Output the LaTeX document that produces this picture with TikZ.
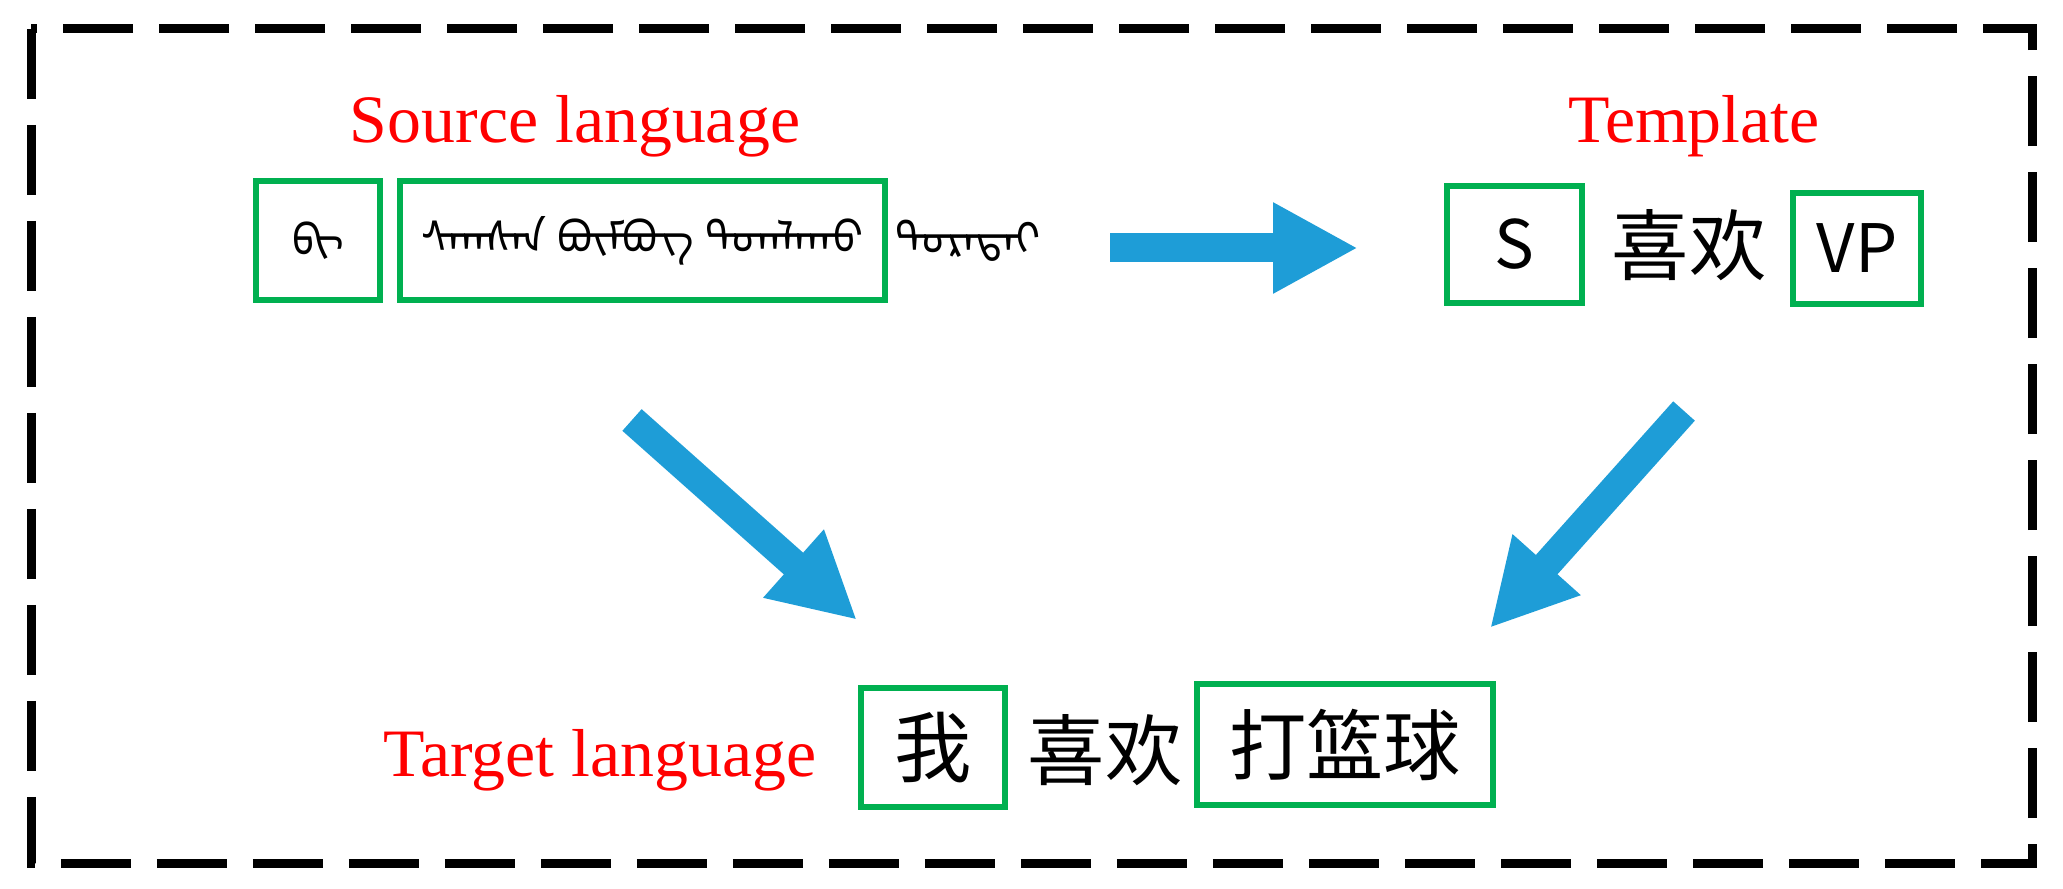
\documentclass[tikz,border=0pt]{standalone}
\usepackage{fontspec}
\setmainfont{Liberation Serif}
\newfontfamily\cjk{Noto Sans CJK SC}
\IfFontExistsTF{Noto Sans Mongolian}
  {\newfontfamily\mong[Script=Mongolian]{Noto Sans Mongolian}}
  {\newfontfamily\mong{DejaVu Sans}}
\usetikzlibrary{arrows.meta,positioning,calc}
\definecolor{boxgreen}{RGB}{0,176,80}
\definecolor{arrowblue}{RGB}{30,157,215}

\tikzset{
  redtitle/.style={text=red, font=\fontsize{19.3}{23}\selectfont, inner sep=0pt, anchor=base},
  slot/.style={draw=boxgreen, line width=0.6mm, inner sep=0pt},
  hanzi/.style={font=\cjk\fontsize{22}{26}\selectfont, inner sep=0pt},
  latin/.style={font=\cjk\fontsize{19}{23}\selectfont, inner sep=0pt},
  mword/.style={font=\mong\fontsize{12.6}{15}\selectfont, inner sep=0pt},
  bigarrow/.style={draw=arrowblue, line width=2.9mm, -{Triangle[length=8.5mm,width=8.5mm]}},
}

\begin{document}
\begin{tikzpicture}[x=0.1mm, y=-0.1mm]
  \useasboundingbox (0,0) rectangle (2063,889);
  \draw[line width=0.9mm, dash pattern=on 7mm off 2.6mm] (31,29) rectangle (2032,863);

  % source sentence
  \node[redtitle] (srctitle) at (575,143) {Source language};
  \node[slot, mword, minimum width=12.4mm, minimum height=11.9mm] (srcbi) at (318,240.5) {ᠪᠢ};
  \node[slot, mword, minimum width=48.5mm, minimum height=11.9mm] (srcvp) at (642.5,240.5) {ᠰᠠᠭᠰᠠᠨ ᠪᠥᠮᠪᠥᠭ ᠲᠣᠭᠯᠠᠬᠤ};
  \node[mword] (srclike) at (968,240.5) {ᠳᠤᠷᠠᠲᠠᠢ};

  % template
  \node[redtitle] (tpltitle) at (1694,143) {Template};
  \node[slot, latin, minimum width=13.5mm, minimum height=11.7mm] (tpls) at (1514.5,244.5) {S};
  \node[hanzi] (tpllike) at (1689,245) {喜欢};
  \node[slot, latin, minimum width=12.8mm, minimum height=11.1mm] (tplvp) at (1857,248.5) {VP};

  % target sentence
  \node[redtitle] (tgttitle) at (600,776) {Target language};
  \node[slot, hanzi, minimum width=14.4mm, minimum height=11.9mm] (tgti) at (933,747.5) {我};
  \node[hanzi] (tgtlike) at (1105,750) {喜欢};
  \node[slot, hanzi, minimum width=29.6mm, minimum height=12.1mm] (tgtvp) at (1345,744.5) {打篮球};

  % arrows
  \coordinate (srcout) at (1110,248);
  \coordinate (tplin) at (1358,248);
  \coordinate (srcdown) at (632,420);
  \coordinate (tgtleft) at (857,620);
  \coordinate (tpldown) at (1684,411);
  \coordinate (tgtright) at (1490,628);
  \draw[bigarrow] (srcout) -- (tplin);
  \draw[bigarrow] (srcdown) -- (tgtleft);
  \draw[bigarrow] (tpldown) -- (tgtright);
\end{tikzpicture}
\end{document}
